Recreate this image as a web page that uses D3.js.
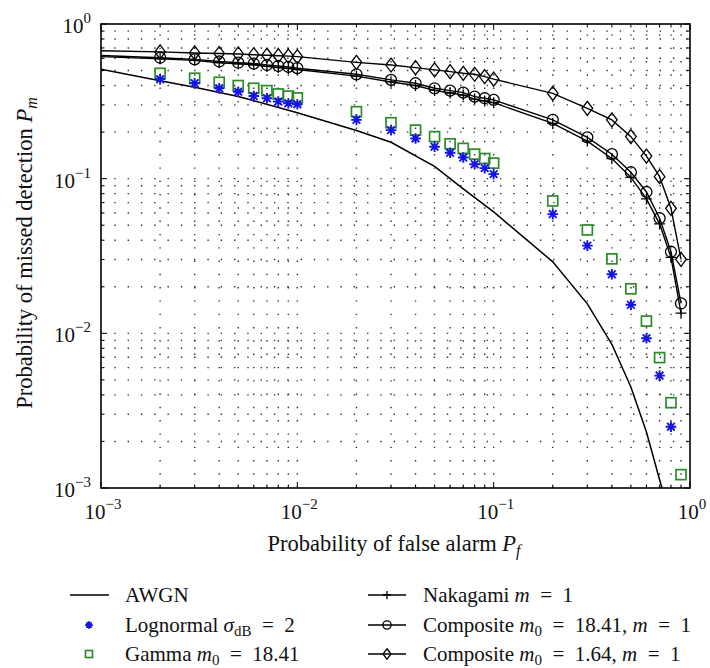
<!DOCTYPE html>
<html>
<head>
<meta charset="utf-8">
<script src="https://cdn.jsdelivr.net/npm/d3@7/dist/d3.min.js"></script>
<style>
  html, body { margin: 0; padding: 0; background: #fff; }
  svg { display: block; font-family: 'Liberation Serif', 'DejaVu Serif', serif; }
</style>
</head>
<body>
<svg id="chart" width="710" height="668"></svg>
<script>
'use strict';

// ---- Data -------------------------------------------------------------------
// False-alarm probabilities shared by the fading curves.
var pf = [0.001, 0.002, 0.003, 0.004, 0.005, 0.006, 0.007, 0.008, 0.009,
          0.01, 0.02, 0.03, 0.04, 0.05, 0.06, 0.07, 0.08, 0.09,
          0.1, 0.2, 0.3, 0.4, 0.5, 0.6, 0.7, 0.8, 0.9];

var nakagami = [0.615, 0.595, 0.582, 0.562, 0.552, 0.545, 0.532, 0.523, 0.516,
                0.508, 0.46, 0.422, 0.4, 0.372, 0.358, 0.347, 0.327, 0.318,
                0.31, 0.228, 0.175, 0.135, 0.102, 0.074, 0.051, 0.031, 0.0135];

var compositeA = [0.625, 0.605, 0.591, 0.572, 0.562, 0.555, 0.543, 0.535, 0.528,
                  0.518, 0.473, 0.435, 0.414, 0.384, 0.371, 0.36, 0.339, 0.331,
                  0.323, 0.24, 0.185, 0.144, 0.11, 0.082, 0.0555, 0.0337, 0.0156];

var compositeB = [0.672, 0.66, 0.65, 0.645, 0.64, 0.633, 0.628, 0.624, 0.62,
                  0.615, 0.565, 0.543, 0.522, 0.505, 0.492, 0.48, 0.473, 0.457,
                  0.44, 0.356, 0.285, 0.24, 0.187, 0.14, 0.103, 0.0643, 0.0301];

var gamma = [null, 0.48, 0.446, 0.42, 0.40, 0.384, 0.371, 0.353, 0.342,
             0.333, 0.271, 0.23, 0.206, 0.187, 0.168, 0.157, 0.144, 0.135,
             0.126, 0.0718, 0.0466, 0.0303, 0.0194, 0.012, 0.00697, 0.00356, 0.00122];

var lognormal = [null, 0.44, 0.414, 0.384, 0.365, 0.342, 0.331, 0.315, 0.307,
                 0.303, 0.24, 0.206, 0.182, 0.161, 0.147, 0.137, 0.124, 0.117,
                 0.107, 0.059, 0.0369, 0.0241, 0.0153, 0.0093, 0.00533, 0.00249, null];

var awgnPf = [0.001, 0.002, 0.003, 0.005, 0.01, 0.02, 0.03, 0.05, 0.07,
              0.1, 0.2, 0.3, 0.4, 0.5, 0.6, 0.7, 0.72];
var awgnPm = [0.51, 0.43, 0.39, 0.34, 0.267, 0.205, 0.172, 0.12, 0.086,
              0.061, 0.029, 0.0155, 0.0085, 0.0045, 0.0023, 0.00113, 0.001];

var majorTicks = [1e-3, 1e-2, 1e-1, 1];
var tickExponents = ['\u22123', '\u22122', '\u22121', '0'];

// ---- Layout ----------------------------------------------------------------
var PLOT = { left: 101, right: 690, top: 24, bottom: 488 };
var BLUE = '#1414e6';
var GREEN = '#2a8c2a';
var EQ = '\u2002=\u2002';   // wider spacing round "=" as in the typeset figure

var svg = d3.select('#chart');
var x = d3.scaleLog().domain([1e-3, 1]).range([PLOT.left, PLOT.right]);
var y = d3.scaleLog().domain([1e-3, 1]).range([PLOT.bottom, PLOT.top]);

var minorTicks = [];
[1e-3, 1e-2, 1e-1].forEach(function(d) {
  for (var k = 2; k <= 9; k++) minorTicks.push(d * k);
});
var allTicks = majorTicks.concat(minorTicks);
var innerTicks = allTicks.filter(function(d) { return d > 1e-3 && d < 1; });

svg.append('defs').append('clipPath').attr('id', 'plotclip')
  .append('rect')
  .attr('x', PLOT.left).attr('y', PLOT.top)
  .attr('width', PLOT.right - PLOT.left).attr('height', PLOT.bottom - PLOT.top);

// ---- Dotted grid -----------------------------------------------------------
var grid = svg.append('g')
  .attr('stroke', '#333').attr('stroke-width', 1.4)
  .attr('stroke-dasharray', '1.4,11.9');
grid.selectAll('line.gx').data(innerTicks)
  .enter().append('line')
  .attr('x1', function(d) { return x(d); }).attr('x2', function(d) { return x(d); })
  .attr('y1', PLOT.bottom).attr('y2', PLOT.top);
grid.selectAll('line.gy').data(innerTicks)
  .enter().append('line')
  .attr('y1', function(d) { return y(d); }).attr('y2', function(d) { return y(d); })
  .attr('x1', PLOT.left).attr('x2', PLOT.right);

// ---- Ticks (inward, all four sides) ---------------------------------------
var ticks = svg.append('g').attr('stroke', '#000').attr('stroke-width', 1);
function tickLen(d) { return majorTicks.indexOf(d) >= 0 ? 6 : 3.5; }
allTicks.forEach(function(d) {
  var L = tickLen(d);
  ticks.append('line').attr('x1', x(d)).attr('x2', x(d)).attr('y1', PLOT.bottom).attr('y2', PLOT.bottom - L);
  ticks.append('line').attr('x1', x(d)).attr('x2', x(d)).attr('y1', PLOT.top).attr('y2', PLOT.top + L);
  ticks.append('line').attr('y1', y(d)).attr('y2', y(d)).attr('x1', PLOT.left).attr('x2', PLOT.left + L);
  ticks.append('line').attr('y1', y(d)).attr('y2', y(d)).attr('x1', PLOT.right).attr('x2', PLOT.right - L);
});

svg.append('rect')
  .attr('x', PLOT.left).attr('y', PLOT.top)
  .attr('width', PLOT.right - PLOT.left).attr('height', PLOT.bottom - PLOT.top)
  .attr('fill', 'none').attr('stroke', '#000').attr('stroke-width', 1.6);

// ---- Tick labels -----------------------------------------------------------
function powLabel(g, px, py, anchor, exp) {
  var t = g.append('text').attr('x', px).attr('y', py)
    .attr('text-anchor', anchor).attr('font-size', 21).attr('fill', '#111');
  t.append('tspan').text('10');
  t.append('tspan').attr('dy', -10).attr('font-size', 15).text(exp);
  return t;
}
var labels = svg.append('g');
majorTicks.forEach(function(d, i) {
  powLabel(labels, x(d) + 2, 519, 'middle', tickExponents[i]);
  powLabel(labels, 91, y(d) + 9, 'end', tickExponents[i]);
});

// ---- Axis titles -----------------------------------------------------------
var xt = svg.append('text').attr('x', 394).attr('y', 551)
  .attr('text-anchor', 'middle').attr('font-size', 22.5).attr('fill', '#111');
xt.append('tspan').text('Probability of false alarm ');
xt.append('tspan').attr('font-style', 'italic').text('P');
xt.append('tspan').attr('font-style', 'italic').attr('font-size', 16).attr('dy', 5).text('f');

var yt = svg.append('text')
  .attr('transform', 'translate(32,253) rotate(-90)')
  .attr('text-anchor', 'middle').attr('font-size', 22.5).attr('fill', '#111');
yt.append('tspan').text('Probability of missed detection ');
yt.append('tspan').attr('font-style', 'italic').text('P');
yt.append('tspan').attr('font-style', 'italic').attr('font-size', 16).attr('dy', 5).text('m');

// ---- Marker shapes ---------------------------------------------------------
function drawMarker(g, kind, cx, cy, s) {
  s = s || 1;
  if (kind === 'star') {
    var r = 5.3 * s, q = r * 0.72;
    g.append('path')
      .attr('d', 'M' + (cx - r) + ',' + cy + 'H' + (cx + r) +
                 'M' + cx + ',' + (cy - r) + 'V' + (cy + r) +
                 'M' + (cx - q) + ',' + (cy - q) + 'L' + (cx + q) + ',' + (cy + q) +
                 'M' + (cx - q) + ',' + (cy + q) + 'L' + (cx + q) + ',' + (cy - q))
      .attr('stroke', BLUE).attr('stroke-width', 1.9).attr('fill', 'none');
  } else if (kind === 'square') {
    var h = 5 * s;
    g.append('rect').attr('x', cx - h).attr('y', cy - h).attr('width', 2 * h).attr('height', 2 * h)
      .attr('fill', 'none').attr('stroke', GREEN).attr('stroke-width', 1.7);
  } else if (kind === 'circle') {
    g.append('circle').attr('cx', cx).attr('cy', cy).attr('r', 5.5 * s)
      .attr('fill', 'none').attr('stroke', '#000').attr('stroke-width', 1.3);
  } else if (kind === 'diamond') {
    var w = 5.3 * s, t = 7 * s;
    g.append('path')
      .attr('d', 'M' + cx + ',' + (cy - t) + 'L' + (cx + w) + ',' + cy + 'L' + cx + ',' + (cy + t) +
                 'L' + (cx - w) + ',' + cy + 'Z')
      .attr('fill', 'none').attr('stroke', '#000').attr('stroke-width', 1.3);
  } else if (kind === 'plus') {
    var p = 5.5 * s;
    g.append('path')
      .attr('d', 'M' + (cx - p) + ',' + cy + 'H' + (cx + p) + 'M' + cx + ',' + (cy - p) + 'V' + (cy + p))
      .attr('stroke', '#000').attr('stroke-width', 1.3).attr('fill', 'none');
  }
}

// ---- Curves ----------------------------------------------------------------
var plot = svg.append('g').attr('clip-path', 'url(#plotclip)');
var line = d3.line()
  .defined(function(d) { return d[1] != null; })
  .x(function(d) { return x(d[0]); })
  .y(function(d) { return y(d[1]); });

function zipPf(vals) { return pf.map(function(p, i) { return [p, vals[i]]; }); }

plot.append('path').datum(awgnPf.map(function(p, i) { return [p, awgnPm[i]]; }))
  .attr('d', line).attr('fill', 'none').attr('stroke', '#000').attr('stroke-width', 1.5);

[[nakagami, 'plus'], [compositeA, 'circle'], [compositeB, 'diamond']].forEach(function(s) {
  plot.append('path').datum(zipPf(s[0]))
    .attr('d', line).attr('fill', 'none').attr('stroke', '#000').attr('stroke-width', 1.4);
});

[[gamma, 'square'], [lognormal, 'star'], [nakagami, 'plus'], [compositeA, 'circle'], [compositeB, 'diamond']]
  .forEach(function(s) {
    var mg = plot.append('g');
    zipPf(s[0]).forEach(function(d, i) {
      if (i === 0 || d[1] == null) return;
      drawMarker(mg, s[1], x(d[0]), y(d[1]));
    });
  });

// ---- Legend ----------------------------------------------------------------
var leg = svg.append('g').attr('font-size', 21).attr('fill', '#111');
function legText(px, py, parts) {
  var t = leg.append('text').attr('x', px).attr('y', py);
  parts.forEach(function(p) {
    var ts = t.append('tspan').text(p.t);
    if (p.i) ts.attr('font-style', 'italic');
    if (p.sub) ts.attr('font-size', 15).attr('dy', 3.5);
    if (p.up) ts.attr('dy', -3.5);
  });
}

// left column
leg.append('line').attr('x1', 70).attr('x2', 109).attr('y1', 595).attr('y2', 595)
  .attr('stroke', '#000').attr('stroke-width', 1.5);
legText(125, 602, [{ t: 'AWGN' }]);
drawMarker(leg, 'star', 89, 625, 0.7);
legText(125, 632, [{ t: 'Lognormal ' }, { t: '\u03c3', i: true }, { t: 'dB', sub: true }, { t: EQ + '2', up: true }]);
drawMarker(leg, 'square', 89, 654, 0.7);
legText(125, 661, [{ t: 'Gamma ' }, { t: 'm', i: true }, { t: '0', sub: true }, { t: EQ + '18.41', up: true }]);

// right column
[['plus', 595], ['circle', 625], ['diamond', 654]].forEach(function(r) {
  leg.append('line').attr('x1', 368).attr('x2', 406).attr('y1', r[1]).attr('y2', r[1])
    .attr('stroke', '#000').attr('stroke-width', 1.4);
  drawMarker(leg, r[0], 387, r[1], 0.75);
});
legText(423, 602, [{ t: 'Nakagami ' }, { t: 'm', i: true }, { t: EQ + '1' }]);
legText(423, 632, [{ t: 'Composite ' }, { t: 'm', i: true }, { t: '0', sub: true },
                   { t: EQ + '18.41, ', up: true }, { t: 'm', i: true }, { t: EQ + '1' }]);
legText(423, 661, [{ t: 'Composite ' }, { t: 'm', i: true }, { t: '0', sub: true },
                   { t: EQ + '1.64, ', up: true }, { t: 'm', i: true }, { t: EQ + '1' }]);
</script>
</body>
</html>
